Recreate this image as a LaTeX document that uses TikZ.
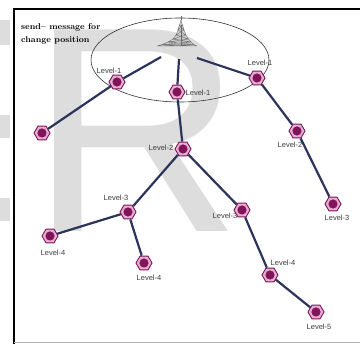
\documentclass[tikz,border=0pt]{standalone}
\usepackage{fontspec}
\newfontfamily\labelfont{Liberation Sans}
\usetikzlibrary{shapes.geometric}

\definecolor{edgeblue}{RGB}{44,52,92}
\definecolor{hexdark}{RGB}{130,20,90}
\definecolor{hexring}{RGB}{228,176,210}
\definecolor{wmgray}{RGB}{221,221,221}
\definecolor{towergray}{RGB}{105,105,105}
\definecolor{labelgray}{RGB}{60,60,60}

\begin{document}
\begin{tikzpicture}[x=1pt,y=-1pt,
  sensor/.style={regular polygon, regular polygon sides=6, minimum size=16pt,
    inner sep=0pt, draw=hexdark, line width=0.9pt, fill=hexring,
    path picture={\fill[hexdark] (path picture bounding box.center) circle (4.6pt);}},
  lvl/.style={font=\labelfont\fontsize{7.5}{8}\selectfont, text=labelgray, inner sep=0pt},
  link/.style={draw=edgeblue, line width=2.2pt},
  titletext/.style={anchor=base west, inner sep=0pt, font=\bfseries\fontsize{8.5}{10}\selectfont},
]
\useasboundingbox (0,0) rectangle (360,344);
\fill[white] (0,0) rectangle (360,344);

% background lettering
\node[anchor=base west, inner sep=0pt, text=wmgray,
      font=\labelfont\fontsize{293}{293}\selectfont] (wm) at (30,232) {R};
\fill[wmgray] (0,20) rectangle (10,45);
\fill[wmgray] (0,115) rectangle (10,138);
\fill[wmgray] (0,198) rectangle (10,221);

% frame
\draw[line width=2.8pt] (13,9) -- (360,9);
\draw[line width=2.5pt] (14,8) -- (14,344);
\draw[line width=1pt, draw=gray!60] (14,342.5) -- (360,342.5);

% caption
\node[titletext] (title1) at (21,29.5) {send-- message for};
\node[titletext] (title2) at (21,42.5) {change position};

% coverage area of the base station
\draw[line width=0.6pt, draw=black!80] (180,60) ellipse [x radius=89pt, y radius=42pt];

% lattice tower
\fill[towergray!30] (181,20) -- (179.5,25) -- (178,30) -- (176,35) -- (173,39)
  -- (168,42) -- (162,44.5) -- (157,46) -- (197,46) -- (194,44.5) -- (191,42)
  -- (188.5,39) -- (186,35) -- (184,30) -- (182.5,25) -- cycle;
\begin{scope}[draw=towergray, line width=0.35pt]
  \foreach \ya/\la/\ra/\yb/\lb/\rb in {
      20/181/181/25/179.5/182.5, 25/179.5/182.5/30/178/184,
      30/178/184/35/176/186, 35/176/186/39/173/188.5,
      39/173/188.5/42/168/191, 42/168/191/44.5/162/194,
      44.5/162/194/46/157/197} {
    \draw (\la,\ya) -- (\lb,\yb) (\ra,\ya) -- (\rb,\yb)
          (\la,\ya) -- (\rb,\yb) (\ra,\ya) -- (\lb,\yb)
          (\lb,\yb) -- (\rb,\yb);
  }
  \draw (181,20) -- (181,16) (181,25) -- (181,46);
\end{scope}
\coordinate (ta) at (161,57);
\coordinate (tb) at (179,59);
\coordinate (tc) at (197,58);

% level labels
\node[lvl] (lb1a) at (109,71) {Level-1};
\node[lvl] (lb1b) at (198,93) {Level-1};
\node[lvl] (lb1c) at (260,63) {Level-1};
\node[lvl] (lb2) at (161,148) {Level-2};
\node[lvl] (lb2r) at (290,145) {Level-2};
\node[lvl] (lb3r) at (337,218) {Level-3};
\node[lvl] (lb3l) at (116,198) {Level-3};
\node[lvl] (lb3m) at (225,216) {Level-3};
\node[lvl] (lb4ll) at (53,253) {Level-4};
\node[lvl] (lb4l) at (149,278) {Level-4};
\node[lvl] (lb4r) at (283,263) {Level-4};
\node[lvl] (lb5) at (319,327) {Level-5};

% sensor nodes
\node[sensor] (n1a) at (117,82) {};
\node[sensor] (n1b) at (177,92) {};
\node[sensor] (n1c) at (257,78) {};
\node[sensor] (leaf) at (42,133) {};
\node[sensor] (n2) at (183,149) {};
\node[sensor] (n2r) at (297,131) {};
\node[sensor] (n3r) at (333,204) {};
\node[sensor] (n3l) at (128,212) {};
\node[sensor] (n3m) at (242,210) {};
\node[sensor] (n4ll) at (50,236) {};
\node[sensor] (n4l) at (144,263) {};
\node[sensor] (n4r) at (270,275) {};
\node[sensor] (n5) at (316,312) {};

% routing links
\draw[link] (ta) -- (n1a);
\draw[link] (tb) -- (n1b);
\draw[link] (tc) -- (n1c);
\draw[link] (n1a) -- (leaf);
\draw[link] (n1b) -- (n2);
\draw[link] (n1c) -- (n2r);
\draw[link] (n2r) -- (n3r);
\draw[link] (n2) -- (n3l);
\draw[link] (n2) -- (n3m);
\draw[link] (n3l) -- (n4ll);
\draw[link] (n3l) -- (n4l);
\draw[link] (n3m) -- (n4r);
\draw[link] (n4r) -- (n5);
\end{tikzpicture}
\end{document}
